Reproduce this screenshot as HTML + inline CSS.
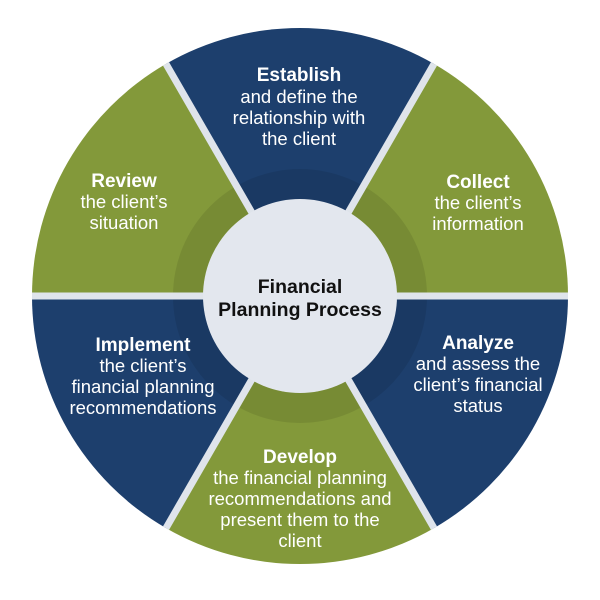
<!DOCTYPE html>
<html><head><meta charset="utf-8"><style>
html,body{margin:0;padding:0;background:#fff;}
svg{display:block}
text{font-family:"Liberation Sans",Arial,sans-serif;text-anchor:middle;}
.t{fill:#fff;font-size:18.5px;}
.b{font-weight:bold;font-size:19px;}
.c{font-weight:bold;font-size:19.5px;}
</style></head><body>
<svg width="600" height="600" viewBox="0 0 600 600">
<g transform="translate(300,296)">
<path d="M0 0 L134 -232.1 A268 268 0 0 0 -134 -232.1 Z" fill="#1d3f6d"/>
<path d="M0 0 L268 0 A268 268 0 0 0 134 -232.1 Z" fill="#83993a"/>
<path d="M0 0 L134 232.1 A268 268 0 0 0 268 0 Z" fill="#1d3f6d"/>
<path d="M0 0 L-134 232.1 A268 268 0 0 0 134 232.1 Z" fill="#83993a"/>
<path d="M0 0 L-268 0 A268 268 0 0 0 -134 232.1 Z" fill="#1d3f6d"/>
<path d="M0 0 L-134 -232.1 A268 268 0 0 0 -268 0 Z" fill="#83993a"/>
<circle r="127" fill="#000" opacity="0.09"/>
<g stroke="#dfe4eb" stroke-width="7">
<line x1="-268" y1="0" x2="268" y2="0"/>
<line x1="-134" y1="-232.1" x2="134" y2="232.1"/>
<line x1="134" y1="-232.1" x2="-134" y2="232.1"/>
</g>
<circle r="97" fill="#e3e7ee"/>
</g>
<text class="c" x="300" y="293" fill="#111">Financial</text>
<text class="c" x="300" y="316" fill="#111">Planning Process</text>

<text class="t b" x="299" y="81">Establish</text>
<text class="t" x="299" y="103">and define the</text>
<text class="t" x="299" y="124">relationship with</text>
<text class="t" x="299" y="145">the client</text>

<text class="t b" x="478" y="188">Collect</text>
<text class="t" x="478" y="209">the client’s</text>
<text class="t" x="478" y="230">information</text>

<text class="t b" x="124" y="187">Review</text>
<text class="t" x="124" y="208">the client’s</text>
<text class="t" x="124" y="229">situation</text>

<text class="t b" x="478" y="349">Analyze</text>
<text class="t" x="478" y="370">and assess the</text>
<text class="t" x="478" y="391">client’s financial</text>
<text class="t" x="478" y="412">status</text>

<text class="t b" x="143" y="351">Implement</text>
<text class="t" x="143" y="372">the client’s</text>
<text class="t" x="143" y="393">financial planning</text>
<text class="t" x="143" y="414">recommendations</text>

<text class="t b" x="300" y="463">Develop</text>
<text class="t" x="300" y="484">the financial planning</text>
<text class="t" x="300" y="505">recommendations and</text>
<text class="t" x="300" y="526">present them to the</text>
<text class="t" x="300" y="547">client</text>
</svg>
</body></html>
